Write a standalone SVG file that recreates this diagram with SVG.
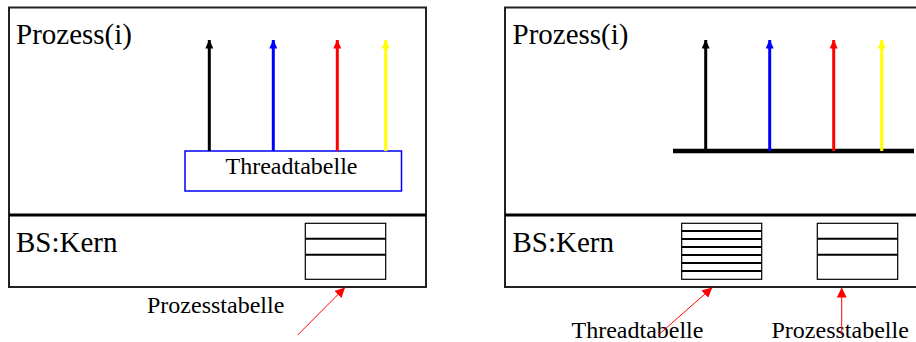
<svg xmlns="http://www.w3.org/2000/svg" width="916" height="342" viewBox="0 0 916 342">
<style>
text{font-family:"Liberation Serif","Times New Roman",serif;fill:#000}
.big{font-family:"Liberation Serif","Times New Roman",serif;font-size:29px}
.lbl{font-family:"Liberation Serif","Times New Roman",serif;font-size:24px}
.frame{fill:none;stroke:#222;stroke-width:2}
.sep{stroke:#000;stroke-width:3}
.tab{fill:#fff;stroke:#000;stroke-width:1.2}
.row{stroke:#000;stroke-width:2}
.thr{stroke-width:3;fill:none}
.ptr{stroke:#f00;stroke-width:1;fill:none}
</style>
<defs>
<marker id="ak" markerWidth="8" markerHeight="9" refX="4" refY="0.5" markerUnits="userSpaceOnUse" viewBox="0 0 8 9"><path d="M0,9 L4,0 L8,9 Z" fill="#000"/></marker>
<marker id="ab" markerWidth="8" markerHeight="9" refX="4" refY="0.5" markerUnits="userSpaceOnUse" viewBox="0 0 8 9"><path d="M0,9 L4,0 L8,9 Z" fill="#00f"/></marker>
<marker id="ar" markerWidth="8" markerHeight="9" refX="4" refY="0.5" markerUnits="userSpaceOnUse" viewBox="0 0 8 9"><path d="M0,9 L4,0 L8,9 Z" fill="#f00"/></marker>
<marker id="ay" markerWidth="8" markerHeight="9" refX="4" refY="0.5" markerUnits="userSpaceOnUse" viewBox="0 0 8 9"><path d="M0,9 L4,0 L8,9 Z" fill="#ff0"/></marker>
<marker id="ap" markerWidth="10" markerHeight="10" refX="10" refY="5" orient="auto" markerUnits="userSpaceOnUse" viewBox="0 0 10 10"><path d="M0,0 L10,5 L0,10 Z" fill="#f00"/></marker>
</defs>

<g id="left-process">
<rect class="frame" x="9" y="7.5" width="417" height="279.5"/>
<line class="sep" x1="9" y1="215" x2="426" y2="215"/>
<text class="big" x="16" y="44">Prozess(i)</text>
<text class="big" x="16" y="252">BS:Kern</text>
</g>

<g id="left-threadtable">
<rect x="185" y="151" width="216.5" height="40" fill="#fff" stroke="#00f" stroke-width="1.5"/>
<text class="lbl" x="291.5" y="174" text-anchor="middle">Threadtabelle</text>
</g>

<g id="left-processtable">
<rect class="tab" x="305.3" y="223.3" width="80.4" height="56"/>
<line class="row" x1="305.3" y1="238.7" x2="385.7" y2="238.7"/>
<line class="row" x1="305.3" y1="254.7" x2="385.7" y2="254.7"/>
</g>
<text class="lbl" x="147" y="313">Prozesstabelle</text>

<g id="right-process">
<rect class="frame" x="505" y="7.5" width="430" height="279.5"/>
<line class="sep" x1="505" y1="215" x2="916" y2="215"/>
<text class="big" x="512.5" y="44">Prozess(i)</text>
<text class="big" x="512.5" y="252">BS:Kern</text>
<line x1="673" y1="151" x2="914" y2="151" stroke="#000" stroke-width="4.5"/>
</g>

<g id="right-threadtable">
<rect class="tab" x="681.7" y="223.3" width="80" height="56"/>
<line class="row" x1="681.7" y1="231" x2="761.7" y2="231"/>
<line class="row" x1="681.7" y1="239" x2="761.7" y2="239"/>
<line class="row" x1="681.7" y1="247" x2="761.7" y2="247"/>
<line class="row" x1="681.7" y1="255" x2="761.7" y2="255"/>
<line class="row" x1="681.7" y1="263" x2="761.7" y2="263"/>
<line class="row" x1="681.7" y1="271" x2="761.7" y2="271"/>
</g>

<g id="right-processtable">
<rect class="tab" x="817.3" y="223.3" width="80.4" height="56"/>
<line class="row" x1="817.3" y1="238.7" x2="897.7" y2="238.7"/>
<line class="row" x1="817.3" y1="254.7" x2="897.7" y2="254.7"/>
</g>
<text class="lbl" x="571.5" y="338">Threadtabelle</text>
<text class="lbl" x="771.5" y="338">Prozesstabelle</text>

<g id="connectors">
<line class="thr" stroke="#000" x1="209.3" y1="151" x2="209.3" y2="40" marker-end="url(#ak)"/>
<line class="thr" stroke="#00f" x1="273.3" y1="151" x2="273.3" y2="40" marker-end="url(#ab)"/>
<line class="thr" stroke="#f00" x1="337.3" y1="151" x2="337.3" y2="40" marker-end="url(#ar)"/>
<line class="thr" stroke="#ff0" x1="385.7" y1="151" x2="385.7" y2="40" marker-end="url(#ay)"/>
<line class="thr" stroke="#000" x1="705.7" y1="151" x2="705.7" y2="40" marker-end="url(#ak)"/>
<line class="thr" stroke="#00f" x1="769.7" y1="151" x2="769.7" y2="40" marker-end="url(#ab)"/>
<line class="thr" stroke="#f00" x1="833.7" y1="151" x2="833.7" y2="40" marker-end="url(#ar)"/>
<line class="thr" stroke="#ff0" x1="881.7" y1="151" x2="881.7" y2="40" marker-end="url(#ay)"/>
<line class="ptr" x1="297.7" y1="335" x2="345" y2="287.5" marker-end="url(#ap)"/>
<line class="ptr" x1="658.3" y1="335" x2="712.3" y2="287.5" marker-end="url(#ap)"/>
<line class="ptr" x1="841.7" y1="335" x2="841.7" y2="287.5" marker-end="url(#ap)"/>
</g>
</svg>
